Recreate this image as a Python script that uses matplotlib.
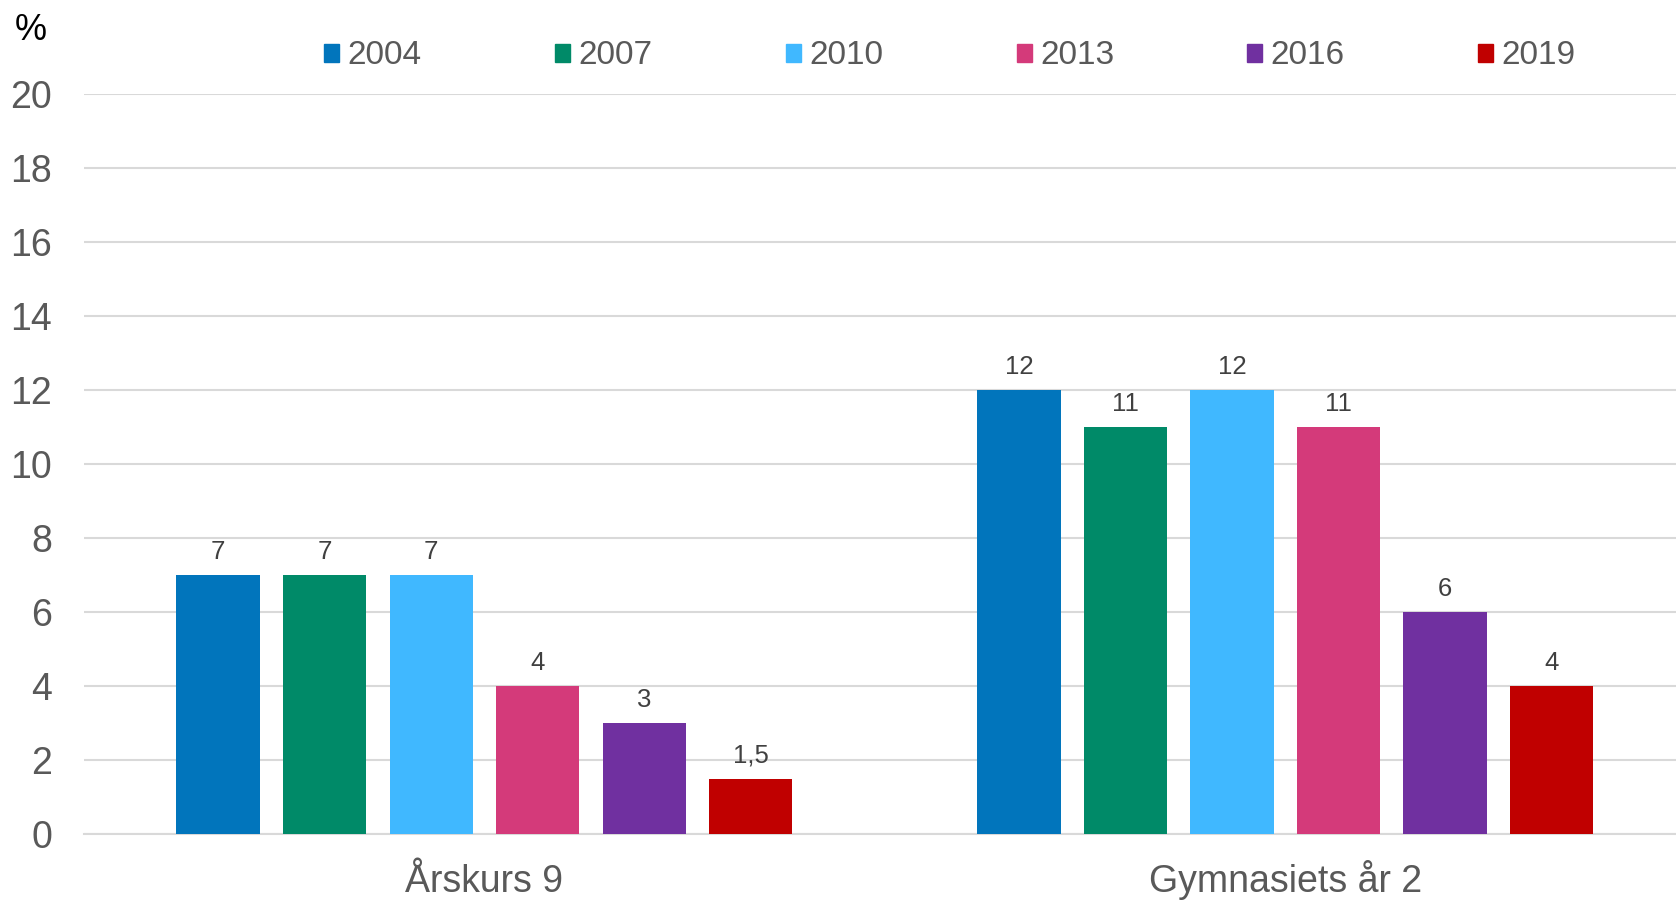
import matplotlib.pyplot as plt
from matplotlib.patches import Patch
import numpy as np

plt.rcParams['font.family'] = ['Liberation Sans', 'DejaVu Sans']

# Data
categories = ['Årskurs 9', 'Gymnasiets år 2']
years = ['2004', '2007', '2010', '2013', '2016', '2019']
values = {
    '2004': [7, 12],
    '2007': [7, 11],
    '2010': [7, 12],
    '2013': [4, 11],
    '2016': [3, 6],
    '2019': [1.5, 4],
}
colors = ['#0175BC', '#008A68', '#40B8FF', '#D43A7A', '#7030A0', '#C00000']

fig = plt.figure(figsize=(16.76, 9.0), dpi=100)
ax = fig.add_axes([84 / 1676, 66 / 900, 1 - 84 / 1676, (834 - 94) / 900])

x = np.arange(len(categories))
pitch = 0.133
width = 0.104

for i, year in enumerate(years):
    offs = (i - 2.5) * pitch
    bars = ax.bar(x + offs, values[year], width, color=colors[i], zorder=3)
    labels = [str(v).replace('.', ',') for v in values[year]]
    ax.bar_label(bars, labels=labels, padding=8, fontsize=18.5, color='#404040')

ax.set_xlim(-0.5, 1.488)
ax.set_ylim(0, 20)
ax.set_yticks(range(0, 21, 2))
ax.set_xticks(x)
ax.set_xticklabels(categories, va='baseline')

ax.grid(axis='y', color='#D9D9D9', linewidth=1.5, zorder=0)
for s in ['top', 'right', 'left']:
    ax.spines[s].set_visible(False)
ax.spines['bottom'].set_color('#D9D9D9')
ax.spines['bottom'].set_linewidth(1.5)

ax.tick_params(axis='y', length=0, pad=23, labelsize=27, labelcolor='#595959')
ax.tick_params(axis='x', length=0, pad=42, labelsize=27, labelcolor='#595959')

fig.text(31 / 1676, 1 - 31 / 900, '%', fontsize=26, color='black',
         ha='center', va='center')

handles = [Patch(color=c) for c in colors]
fig.legend(handles, years, loc='center', bbox_to_anchor=(950 / 1676, 1 - 56 / 900),
           ncol=6, frameon=False, fontsize=24, labelcolor='#595959',
           handlelength=0.45, handleheight=0.45, handletextpad=0.25,
           columnspacing=4.0)

plt.savefig('out.png', dpi=100)
